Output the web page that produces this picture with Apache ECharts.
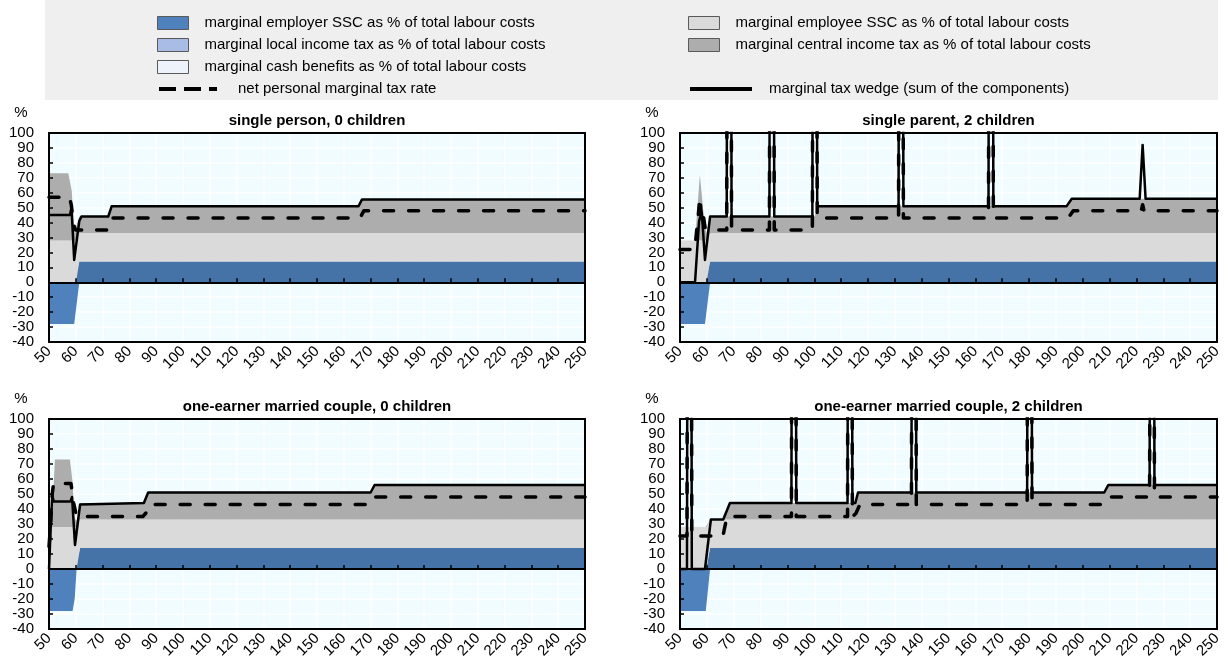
<!DOCTYPE html>
<html><head><meta charset="utf-8">
<script src="https://cdn.jsdelivr.net/npm/echarts@6/dist/echarts.min.js"></script>
<style>html,body{margin:0;padding:0;background:#fff}#c{width:1231px;height:659px}</style>
</head><body><div id="c"></div>
<script>
// ---------- names ----------
const NAME_EMPLOYER = 'marginal employer SSC as % of total labour costs';
const NAME_EMPLOYEE = 'marginal employee SSC as % of total labour costs';
const NAME_LOCAL = 'marginal local income tax as % of total labour costs';
const NAME_CENTRAL = 'marginal central income tax as % of total labour costs';
const NAME_CASH = 'marginal cash benefits as % of total labour costs';
const NAME_NET = 'net personal marginal tax rate';
const NAME_WEDGE = 'marginal tax wedge (sum of the components)';
const panelTitles = ['single person, 0 children', 'single parent, 2 children',
  'one-earner married couple, 0 children', 'one-earner married couple, 2 children'];
const X_MIN = 50, X_MAX = 250, X_STEP = 10;
const Y_MIN = -40, Y_MAX = 100, Y_STEP = 10;

// ---------- Panel 1: single person, 0 children ----------
const p1X        = [50, 57.2, 58.5, 59.4, 60.1, 61.3, 72.1, 73.4, 165.5, 166.8, 250];
const p1EmpNeg   = [-28, -28, -28, -28, -17.7, 0, 0, 0, 0, 0, 0];
const p1EmpPos   = [0, 0, 0, 0, 0, 14, 14, 14, 14, 14, 14];
const p1Employee = [28, 28, 28, 28, 28, 19, 19, 19, 19, 19, 19];
const p1Central  = [45, 45, 33, 5, 4, 11, 11, 18, 18, 22.5, 22.5];
const p1WedgeX   = [50, 57.8, 58.4, 59.4, 61.3, 62.1, 72.1, 73.4, 165.5, 166.8, 250];
const p1Wedge    = [45, 45, 50, 15, 41, 44, 44, 51, 51, 55.5, 55.5];
const p1NetX     = [50, 57.6, 58.3, 59.3, 59.9, 72.1, 73.6, 166, 167.5, 250];
const p1Net      = [57, 57, 52, 38, 35, 35, 43, 43, 48, 48];

// ---------- Panel 2: single parent, 2 children ----------
const p2X        = [50, 55.6, 57.4, 59.3, 59.9, 61.2, 100.2, 101.1, 194, 195.9, 250];
const p2EmpNeg   = [-28, -28, -28, -28, -19.2, 0, 0, 0, 0, 0, 0];
const p2EmpPos   = [0, 0, 0, 0, 0, 14, 14, 14, 14, 14, 14];
const p2Employee = [28, 28, 28, 28, 28, 19, 19, 19, 19, 19, 19];
const p2Central  = [0, 0, 44, 8, 5, 11, 11, 18, 18, 23, 23];
const p2WedgeX   = [50, 55.6, 57.1, 58.1, 59.3, 61.2, 67.4, 68.3, 69.2, 83.3, 84.2, 85.1, 99.3, 100.2, 101.1,
                    131.4, 132.3, 133.2, 164.9, 165.8, 166.7, 194, 195.9, 221.2, 222.3, 223.4, 250];
const p2Wedge    = [0, 0, 41, 47, 15, 44, 44, 1000, 44, 44, 1000, 44, 44, 1000, 51,
                    51, 1000, 51, 51, 1000, 51, 51, 56, 56, 92, 56, 56];
const p2NetX     = [50, 55.5, 56.8, 57.4, 58.0, 58.5, 59.4, 60.2, 67.4, 68.3, 69.2, 83.3, 84.2, 85.1, 99.3, 100.2, 101.1,
                    131.4, 132.3, 133.2, 164.9, 165.8, 166.7, 194.5, 196.5, 221.8, 222.3, 222.8, 250];
const p2Net      = [22, 22, 45, 57, 43, 47, 36, 35, 35, 1000, 35, 35, 1000, 35, 35, 1000, 43,
                    43, 1000, 43, 43, 1000, 43, 43, 48, 48, 52, 48, 48];

// ---------- Panel 3: one-earner married couple, 0 children ----------
const p3X        = [50, 51, 52.2, 57.8, 58.8, 59.3, 59.6, 60.3, 61.6, 85.4, 87, 170, 171.5, 250];
const p3EmpNeg   = [-28, -28, -28, -28, -28, -28, -19.6, 0, 0, 0, 0, 0, 0, 0];
const p3EmpPos   = [0, 0, 0, 0, 0, 0, 0, 0, 14, 14, 14, 14, 14, 14];
const p3Employee = [28, 28, 28, 28, 28, 28, 28, 28, 19, 19, 19, 19, 19, 19];
const p3Central  = [0, 0, 45, 45, 30, 12, 6, 4, 11, 11, 18, 18, 23, 23];
const p3WedgeX   = [50, 50.7, 51.2, 51.8, 58, 58.6, 59.7, 61.6, 62.2, 85.4, 87, 170, 171.5, 250];
const p3Wedge    = [0, 30, 49, 45, 45, 48, 16, 43, 44, 44, 51, 51, 56, 56];
const p3NetX     = [50, 50.6, 51.2, 51.7, 58.2, 59.2, 60.3, 85, 86.5, 87.5, 170.3, 171.8, 250];
const p3Net      = [15, 30, 50, 57, 57, 44, 35, 35, 38, 43, 43, 48, 48];

// ---------- Panel 4: one-earner married couple, 2 children ----------
const p4X        = [50, 59.6, 59.9, 61.2, 66.1, 68.6, 115.3, 116.3, 208, 209.5, 250];
const p4EmpNeg   = [-28, -28, -22.8, 0, 0, 0, 0, 0, 0, 0, 0];
const p4EmpPos   = [0, 0, 0, 14, 14, 14, 14, 14, 14, 14, 14];
const p4Employee = [28, 28, 28, 19, 19, 19, 19, 19, 19, 19, 19];
const p4Central  = [0, 0, 0, 0, 0, 11, 11, 18, 18, 23, 23];
const p4WedgeX   = [50, 52.6, 53.5, 54.4, 59.3, 61.5, 66.1, 68.6, 91.5, 92.4, 93.3, 112.4, 113.3, 114.2, 115.3, 116.3,
                    136.2, 137.1, 138, 179.3, 180.2, 181.1, 208, 209.5, 224.9, 225.8, 226.7, 250];
const p4Wedge    = [0, 0, 1000, 0, 0, 33, 33, 44, 44, 1000, 44, 44, 1000, 44, 44, 51,
                    51, 1000, 51, 51, 1000, 51, 51, 56, 56, 1000, 56, 56];
const p4NetX     = [50, 52.6, 53.5, 54.4, 66, 67.5, 91.5, 92.4, 93.3, 112.4, 113.3, 114.2, 115.5, 117,
                    136.2, 137.1, 138, 179.3, 180.2, 181.1, 208.5, 210.5, 224.9, 225.8, 226.7, 250];
const p4Net      = [22, 22, 1000, 22, 22, 35, 35, 1000, 35, 35, 1000, 35, 37, 43,
                    43, 1000, 43, 43, 1000, 43, 43, 48, 48, 1000, 48, 48];

// ---------- styling ----------
const FONT = "'Liberation Sans', Arial, Helvetica, sans-serif";
const FS = 15;
const C_EMP_NEG = '#4F81BD', C_EMP_POS = '#4572A7', C_EMPLOYEE = '#DADADA', C_CENTRAL = '#ADADAD';
const C_LOCAL = '#A9BCE6', C_CASH = '#EEF2FA', C_PLOT = '#F0FCFF';

const panels = [
  {title: panelTitles[0], x: p1X, neg: p1EmpNeg, pos: p1EmpPos, ee: p1Employee, ct: p1Central, wx: p1WedgeX, w: p1Wedge, nx: p1NetX, n: p1Net,
   rect: {left: 49, top: 133, width: 536, height: 209}},
  {title: panelTitles[1], x: p2X, neg: p2EmpNeg, pos: p2EmpPos, ee: p2Employee, ct: p2Central, wx: p2WedgeX, w: p2Wedge, nx: p2NetX, n: p2Net,
   rect: {left: 680, top: 133, width: 537, height: 209}},
  {title: panelTitles[2], x: p3X, neg: p3EmpNeg, pos: p3EmpPos, ee: p3Employee, ct: p3Central, wx: p3WedgeX, w: p3Wedge, nx: p3NetX, n: p3Net,
   rect: {left: 49, top: 419, width: 536, height: 210}},
  {title: panelTitles[3], x: p4X, neg: p4EmpNeg, pos: p4EmpPos, ee: p4Employee, ct: p4Central, wx: p4WedgeX, w: p4Wedge, nx: p4NetX, n: p4Net,
   rect: {left: 680, top: 419, width: 537, height: 210}}
];

// [x, y] rows for plain lines; [y, x] rows (with encode) for stacked areas so the y value is the stacked dimension
const pairs = (xs, ys) => xs.map((x, i) => [x, ys[i]]);
const pairsYX = (xs, ys) => xs.map((x, i) => [ys[i], x]);

const grids = [], xAxes = [], yAxes = [], series = [], graphics = [];
graphics.push({type: 'rect', shape: {x: 45, y: 0, width: 1173, height: 100}, style: {fill: '#EFEFEF'}, z: -10, silent: true});

panels.forEach((p, i) => {
  grids.push(Object.assign({show: true, backgroundColor: C_PLOT, borderWidth: 0, containLabel: false, outerBoundsMode: 'none'}, p.rect));
  const xA = xAxes.length;
  const common = {gridIndex: i, type: 'value', min: X_MIN, max: X_MAX, interval: X_STEP};
  xAxes.push(Object.assign({}, common, {position: 'bottom', z: 10,
    axisLine: {show: true, onZero: true, lineStyle: {color: '#000', width: 2}},
    axisTick: {show: true, inside: true, length: 4, lineStyle: {color: '#000', width: 1.5}},
    axisLabel: {show: false}, splitLine: {show: false}}));
  xAxes.push(Object.assign({}, common, {position: 'bottom', z: 1,
    axisLine: {show: true, onZero: false, lineStyle: {color: '#000', width: 2}},
    axisTick: {show: false},
    axisLabel: {show: true, rotate: 45, fontSize: FS, color: '#000', margin: 7, fontFamily: FONT, showMinLabel: true, showMaxLabel: true},
    splitLine: {show: true, lineStyle: {color: '#FFFFFF', width: 1.5}}}));
  xAxes.push(Object.assign({}, common, {position: 'top', z: 10,
    axisLine: {show: true, onZero: false, lineStyle: {color: '#000', width: 2}},
    axisTick: {show: false}, axisLabel: {show: false}, splitLine: {show: false}}));

  const yA = yAxes.length;
  const ycommon = {gridIndex: i, type: 'value', min: Y_MIN, max: Y_MAX, interval: Y_STEP};
  yAxes.push(Object.assign({}, ycommon, {position: 'left', z: 10,
    axisLine: {show: true, onZero: false, lineStyle: {color: '#000', width: 2}},
    axisTick: {show: true, inside: true, length: 4, lineStyle: {color: '#000', width: 1.5}},
    axisLabel: {show: true, fontSize: FS, color: '#000', margin: 15, fontFamily: FONT},
    splitLine: {show: false}}));
  yAxes.push(Object.assign({}, ycommon, {position: 'left', z: 1,
    axisLine: {show: false, onZero: false}, axisTick: {show: false}, axisLabel: {show: false},
    splitLine: {show: true, lineStyle: {color: '#FFFFFF', width: 1.5}}}));
  yAxes.push(Object.assign({}, ycommon, {position: 'right', z: 10,
    axisLine: {show: true, onZero: false, lineStyle: {color: '#000', width: 2}},
    axisTick: {show: false}, axisLabel: {show: false}, splitLine: {show: false}}));

  const base = {type: 'line', xAxisIndex: xA, yAxisIndex: yA, symbol: 'none', showSymbol: false, silent: true, animation: false};
  const area = (name, ys, color, stack) => Object.assign({}, base, {
    name, data: pairsYX(p.x, ys), encode: {x: 1, y: 0}, color, stack, z: 2,
    lineStyle: {width: 0, color}, areaStyle: {color, opacity: 1}});
  series.push(area(NAME_EMPLOYER, p.neg, C_EMP_NEG, undefined));
  series.push(area(NAME_EMPLOYER, p.pos, C_EMP_POS, 'pos' + i));
  series.push(area(NAME_EMPLOYEE, p.ee, C_EMPLOYEE, 'pos' + i));
  series.push(area(NAME_CENTRAL, p.ct, C_CENTRAL, 'pos' + i));
  if (i === 0) {
    series.push(Object.assign({}, base, {name: NAME_LOCAL, data: [], color: C_LOCAL, lineStyle: {width: 0}, areaStyle: {color: C_LOCAL}}));
    series.push(Object.assign({}, base, {name: NAME_CASH, data: [], color: C_CASH, lineStyle: {width: 0}, areaStyle: {color: C_CASH}}));
  }
  series.push(Object.assign({}, base, {name: NAME_WEDGE, data: pairs(p.wx, p.w), color: '#000', z: 4,
    lineStyle: {color: '#000', width: 2.5, join: 'round'}}));
  series.push(Object.assign({}, base, {name: NAME_NET, data: pairs(p.nx, p.n), color: '#000', z: 5,
    lineStyle: {color: '#000', width: 3.5, type: [10, 15], cap: 'round', join: 'round'}}));

  const cx = p.rect.left + p.rect.width / 2;
  graphics.push({type: 'text', x: cx, y: p.rect.top - 12, z: 20,
    style: {text: p.title, fontSize: FS, fontWeight: 'bold', fontFamily: FONT, fill: '#000', align: 'center', verticalAlign: 'middle'}});
  graphics.push({type: 'text', x: p.rect.left - 28, y: p.rect.top - 20, z: 20,
    style: {text: '%', fontSize: FS, fontFamily: FONT, fill: '#000', align: 'center', verticalAlign: 'middle'}});
});

const areaLegend = (left, names, colors) => ({
  left, top: 10.5, orient: 'vertical', icon: 'rect', itemWidth: 31, itemHeight: 13, itemGap: 7,
  selectedMode: false,
  data: names.map((n, k) => ({name: n, itemStyle: {color: colors[k], borderColor: '#595959', borderWidth: 1}})),
  textStyle: {fontSize: FS, color: '#000', fontFamily: FONT, padding: [0, 0, 0, 11]}
});
const hiddenSymbol = {color: 'rgba(0,0,0,0)', borderWidth: 0, opacity: 0};

const option = {
  animation: false,
  textStyle: {fontFamily: FONT},
  grid: grids, xAxis: xAxes, yAxis: yAxes, series,
  graphic: graphics,
  legend: [
    areaLegend(152, [NAME_EMPLOYER, NAME_LOCAL, NAME_CASH], [C_EMP_NEG, C_LOCAL, C_CASH]),
    areaLegend(683, [NAME_EMPLOYEE, NAME_CENTRAL], [C_EMPLOYEE, C_CENTRAL]),
    {left: 152, top: 76.5, itemWidth: 58, itemHeight: 13, selectedMode: false, data: [NAME_NET],
     itemStyle: hiddenSymbol,
     lineStyle: {width: 4, type: [17, 8], cap: 'butt', color: '#000'},
     textStyle: {fontSize: FS, color: '#000', fontFamily: FONT, padding: [0, 0, 0, 16]}},
    {left: 683, top: 76.5, itemWidth: 62, itemHeight: 13, selectedMode: false, data: [NAME_WEDGE],
     itemStyle: hiddenSymbol,
     lineStyle: {width: 4, type: 'solid', color: '#000'},
     textStyle: {fontSize: FS, color: '#000', fontFamily: FONT, padding: [0, 0, 0, 12]}}
  ]
};

const chart = echarts.init(document.getElementById('c'), null, {renderer: 'canvas'});
chart.setOption(option);
</script>
</body></html>
